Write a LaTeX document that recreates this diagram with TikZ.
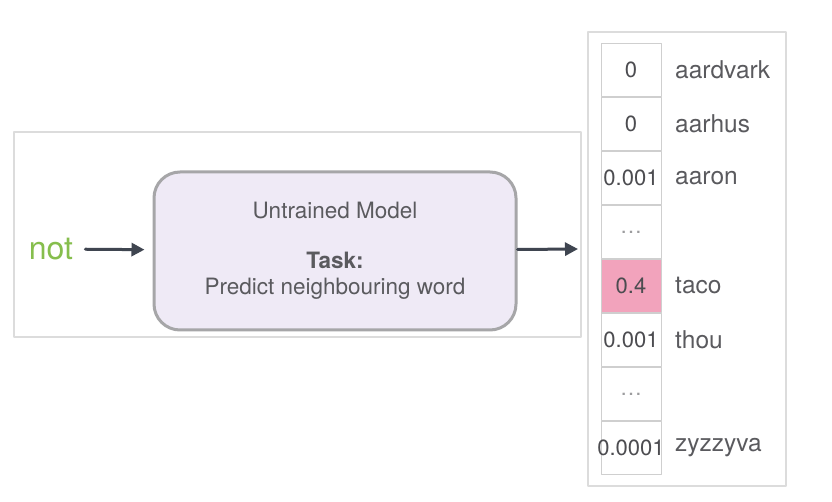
\documentclass[tikz,border=0pt]{standalone}
\usepackage{fontspec}
\setmainfont{TeX Gyre Heros}
\usepackage{tikz}
\usetikzlibrary{graphs}
\usetikzlibrary{arrows.meta}

\definecolor{txtgray}{HTML}{5A5A5E}
\definecolor{arrgray}{HTML}{3F4550}
\definecolor{wordgreen}{HTML}{86BE4D}
\definecolor{boxfill}{HTML}{EFEAF6}
\definecolor{boxline}{HTML}{A6A6A8}
\definecolor{tacopink}{HTML}{F2A3BC}
\definecolor{panelline}{HTML}{DCDCDC}
\definecolor{cellline}{HTML}{CFCFCF}

\begin{document}
\begin{tikzpicture}[line cap=round,line join=round,>={Triangle[length=13pt,width=13pt]},x=1pt,y=-1pt,
    panel/.style={draw=panelline, line width=1.5pt, fill=white},
    model/.style={rectangle, rounded corners=26pt, draw=boxline, line width=3pt, fill=boxfill, minimum width=362pt, minimum height=158pt, align=center, text=txtgray, font=\fontsize{22.5}{26}\selectfont},
    arr/.style={->, draw=arrgray, line width=3pt},
    cell/.style={rectangle, draw=cellline, line width=1pt, minimum width=60pt, minimum height=53.9pt, inner sep=0pt, text=txtgray!85!black, font=\fontsize{22}{26}\selectfont},
    dots/.style={cell, text=txtgray!60},
    lbl/.style={anchor=west, inner sep=0pt, text=txtgray, font=\fontsize{24.5}{28}\selectfont}]
                    \useasboundingbox (0,0) rectangle (832,502);

                    % panels
                    \draw[panel] (14,132) rectangle (581,337);
                    \draw[panel] (588,32) rectangle (786,486);

                    \node[inner sep=0pt, text=wordgreen, font=\fontsize{32}{36}\selectfont] (word) at (51,249) {not};
                    \node[model] (model) at (335,251) {\raisebox{-2pt}{Untrained Model}\\[26pt]\textbf{Task:}\\Predict neighbouring word};
                    \coordinate (outend) at (578,249);

                    \graph {
                        (word) ->[arr, shorten <=12pt, shorten >=8pt] (model);
                        (model) ->[arr] (outend);
                    };

                    % output vector
                    \node[cell] (c1) at (631,70) {0};
                    \node[cell] (c2) at (631,124) {0};
                    \node[cell] (c3) at (631,178) {0.001};
                    \node[dots] (c4) at (631,232) {\dots};
                    \node[cell, fill=tacopink] (c5) at (631,286) {0.4};
                    \node[cell] (c6) at (631,340) {0.001};
                    \node[dots] (c7) at (631,394) {\dots};
                    \node[cell] (c8) at (631,448) {\makebox[0pt]{0.0001}};

                    \node[lbl] (w1) at (675,70) {aardvark};
                    \node[lbl] (w2) at (675,124) {aarhus};
                    \node[lbl] (w3) at (675,178) {aaron};
                    \node[lbl] (w5) at (675,286) {taco};
                    \node[lbl] (w6) at (675,340) {thou};
                    \node[lbl] (w8) at (675,448) {zyzzyva};
                \end{tikzpicture}
\end{document}
